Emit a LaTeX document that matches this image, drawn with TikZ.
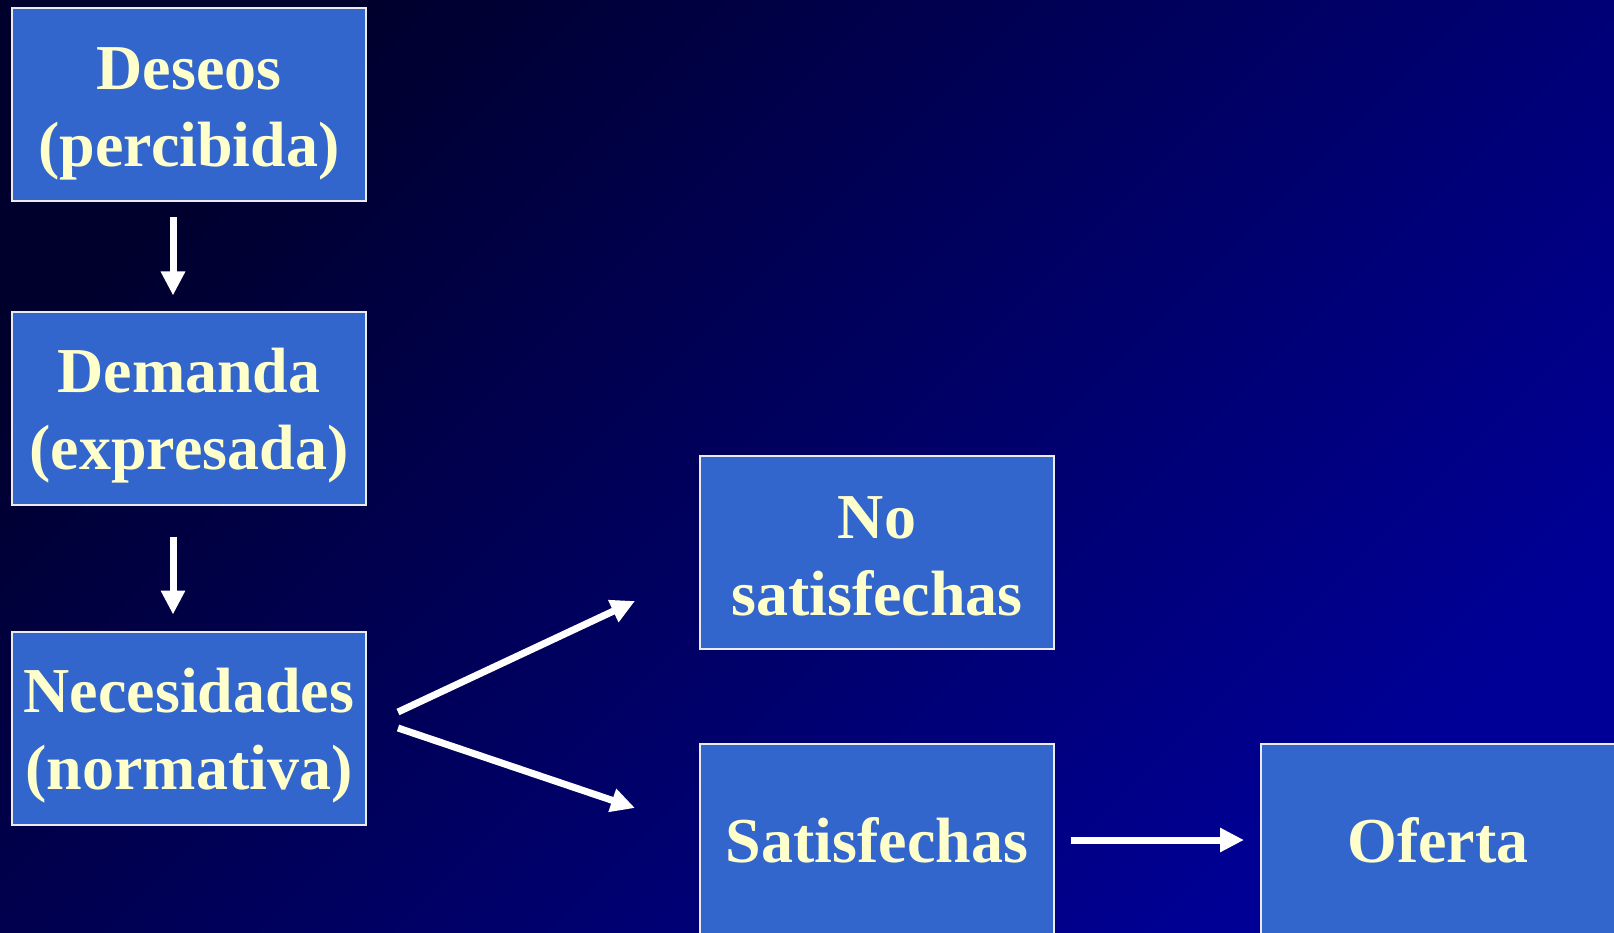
\documentclass[tikz,border=0pt]{standalone}
\usepackage{fontspec}
\setmainfont{Liberation Serif}
\usetikzlibrary{arrows.meta}
\definecolor{bgdark}{RGB}{0,0,45}
\definecolor{bglight}{RGB}{0,0,150}
\definecolor{boxblue}{RGB}{51,102,204}
\definecolor{cream}{RGB}{255,255,204}
\definecolor{boxline}{RGB}{235,235,240}
\begin{document}
\begin{tikzpicture}[x=1pt,y=-1pt,
  box/.style={draw=boxline, line width=2pt, fill=boxblue, minimum width=354pt, minimum height=193pt,
    inner sep=0pt},
  boxtext/.style={inner sep=0pt, align=center, text=cream, font=\fontsize{64}{77}\selectfont\bfseries},
  arr/.style={draw=white, line width=7pt, -{Triangle[width=23pt,length=24pt]}}]
\useasboundingbox (0,0) rectangle (1614,933);
\shade[top color=bgdark, bottom color=bglight, shading angle=45] (0,0) rectangle (1614,933);

\node[box] (deseos) at (189,105) {};
\node[box] (demanda) at (189,408) {};
\node[box] (necesidades) at (189,728) {};
\node[box] (nosat) at (877,552) {};
\node[box] (sat) at (877,840) {};
\node[box] (oferta) at (1438,840) {};

\node[boxtext] (deseos-t) at ([yshift=-9pt]deseos.center) {Deseos\\(percibida)};
\node[boxtext] (demanda-t) at ([yshift=-8pt]demanda.center) {Demanda\\(expresada)};
\node[boxtext] (necesidades-t) at ([yshift=-8pt]necesidades.center) {Necesidades\\(normativa)};
\node[boxtext] (nosat-t) at ([yshift=-4pt]nosat.center) {No\\satisfechas};
\node[boxtext] (sat-t) at (sat.center) {Satisfechas};
\node[boxtext] (oferta-t) at (oferta.center) {Oferta};

\draw[arr] ([xshift=-16pt,yshift=-15pt]deseos.south) -- ([xshift=-16pt,yshift=15pt]demanda.north);
\draw[arr] ([xshift=-16pt,yshift=-31pt]demanda.south) -- ([xshift=-16pt,yshift=16pt]necesidades.north);
\draw[arr] ([xshift=31pt,yshift=16pt]necesidades.east) -- ([xshift=-64pt,yshift=-49pt]nosat.west);
\draw[arr] ([xshift=31pt,yshift=0pt]necesidades.east) -- ([xshift=-64pt,yshift=32pt]sat.west);
\draw[arr, shorten <=16pt, shorten >=16pt] (sat.east) -- (oferta.west);
\end{tikzpicture}
\end{document}
